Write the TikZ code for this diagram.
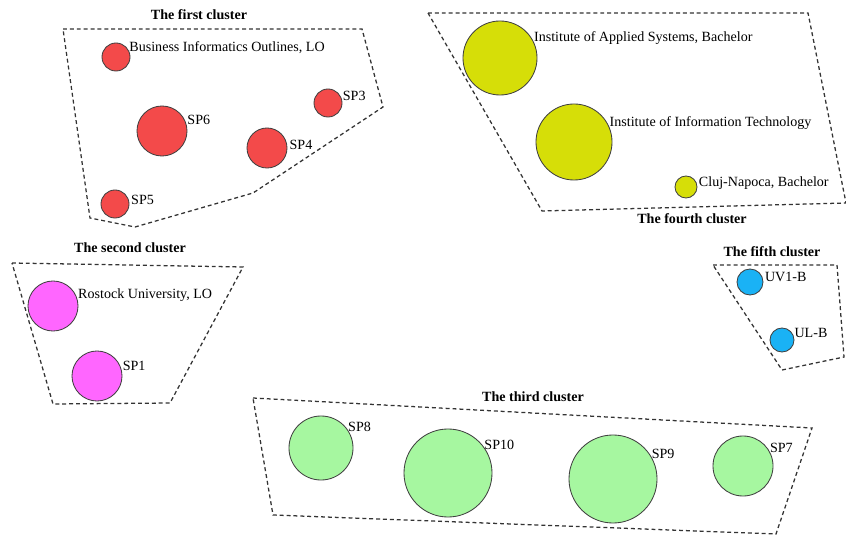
\documentclass[tikz,border=0pt]{standalone}
\usepackage{fontspec}
\setmainfont{Liberation Serif}
\usepackage{xcolor}
\usetikzlibrary{positioning}
\definecolor{clred}{RGB}{243, 74, 74}
\definecolor{clyellow}{RGB}{214, 222, 8}
\definecolor{clpink}{RGB}{255, 102, 255}
\definecolor{clblue}{RGB}{26, 178, 245}
\definecolor{clgreen}{RGB}{166, 247, 160}
\tikzstyle{blob} = [
	circle,
	draw=black!75,
	line width=0.6pt,
	inner sep=0pt
]
\tikzstyle{hull} = [
	draw=black!80,
	dash pattern=on 2.8pt off 2.1pt,
	line width=0.9pt
]
\tikzstyle{lbl} = [
	anchor=west,
	inner sep=1.5pt,
	font=\fontsize{10}{12}\selectfont
]
\tikzstyle{ctitle} = [
	inner sep=1pt,
	font=\bfseries\fontsize{10}{12}\selectfont
]
\tikzset{
	rad/.style={minimum size=#1*0.05cm},
}

\begin{document}
\begin{tikzpicture}[x=0.025cm, y=-0.025cm]
	\useasboundingbox (0,0) rectangle (846,536);
	
	% The first cluster
	\draw[hull] (63,29) -- (362,29) -- (383,107) -- (253,193) -- (135,227) -- (90,218) -- cycle;
	\node[ctitle] (t1) at (199,15) {The first cluster};
	\node[blob, fill=clred, rad=14] (bio) at (116,57) {};
	\node[lbl] (biol) at (bio.40) {Business Informatics Outlines, LO};
	\node[blob, fill=clred, rad=25] (sp6) at (162,131) {};
	\node[lbl] (sp6l) at (sp6.25) {SP6};
	\node[blob, fill=clred, rad=20] (sp4) at (267,148) {};
	\node[lbl] (sp4l) at (sp4.8) {SP4};
	\node[blob, fill=clred, rad=14] (sp3) at (328,103) {};
	\node[lbl] (sp3l) at (sp3.30) {SP3};
	\node[blob, fill=clred, rad=14] (sp5) at (115,204) {};
	\node[lbl] (sp5l) at (sp5.17) {SP5};
	
	% The fourth cluster
	\draw[hull] (428,13) -- (808,13) -- (846,203) -- (542,211) -- cycle;
	\node[ctitle] (t4) at (692,219) {The fourth cluster};
	\node[blob, fill=clyellow, rad=37] (ias) at (500,58) {};
	\node[lbl] (iasl) at (ias.32) {Institute of Applied Systems, Bachelor};
	\node[blob, fill=clyellow, rad=38] (iit) at (574,142) {};
	\node[lbl] (iitl) at (iit.30) {Institute of Information Technology};
	\node[blob, fill=clyellow, rad=11] (cluj) at (686,187) {};
	\node[lbl] (clujl) at (cluj.22) {Cluj-Napoca, Bachelor};
	
	% The second cluster
	\draw[hull] (12,263) -- (243,267) -- (170,403) -- (53,404) -- cycle;
	\node[ctitle] (t2) at (130,248) {The second cluster};
	\node[blob, fill=clpink, rad=25] (rost) at (53,306) {};
	\node[lbl] (rostl) at (rost.26) {Rostock University, LO};
	\node[blob, fill=clpink, rad=25] (sp1) at (97,376) {};
	\node[lbl] (sp1l) at (sp1.23) {SP1};
	
	% The fifth cluster
	\draw[hull] (713,265) -- (837,265) -- (844,357) -- (782,370) -- cycle;
	\node[ctitle] (t5) at (772,252) {The fifth cluster};
	\node[blob, fill=clblue, rad=13] (uv1) at (750,282) {};
	\node[lbl] (uv1l) at (uv1.20) {UV1-B};
	\node[blob, fill=clblue, rad=12] (ulb) at (782,340) {};
	\node[lbl] (ulbl) at (ulb.35) {UL-B};
	
	% The third cluster
	\draw[hull] (253,398) -- (812,428) -- (776,534) -- (273,515) -- cycle;
	\node[ctitle] (t3) at (533,397) {The third cluster};
	\node[blob, fill=clgreen, rad=32] (sp8) at (321,448) {};
	\node[lbl] (sp8l) at (sp8.40) {SP8};
	\node[blob, fill=clgreen, rad=44] (sp10) at (448,473) {};
	\node[lbl] (sp10l) at (sp10.40) {SP10};
	\node[blob, fill=clgreen, rad=44] (sp9) at (613,479) {};
	\node[lbl] (sp9l) at (sp9.35) {SP9};
	\node[blob, fill=clgreen, rad=30] (sp7) at (743,466) {};
	\node[lbl] (sp7l) at (sp7.36) {SP7};
	
\end{tikzpicture}
\end{document}
